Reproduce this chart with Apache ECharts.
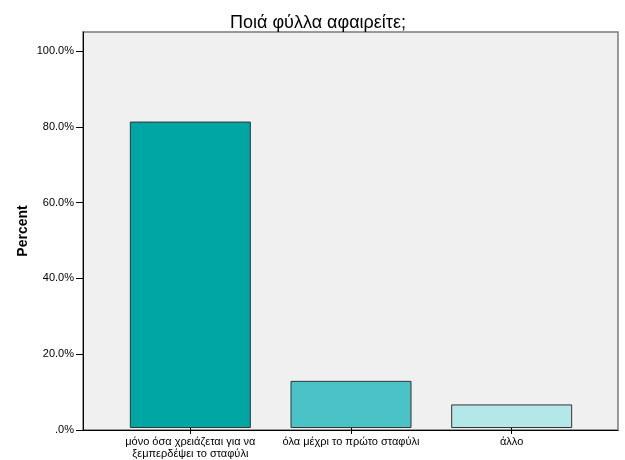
<!DOCTYPE html>
<html><head><meta charset="utf-8">
<script src="https://cdn.jsdelivr.net/npm/echarts@6/dist/echarts.min.js"></script>
<style>html,body{margin:0;padding:0;background:#fff}#c{width:625px;height:460px}</style>
</head><body><div id="c"></div>
<script>
const categories = ['μόνο όσα χρειάζεται για να\nξεμπερδέψει το σταφύλι', 'όλα μέχρι το πρώτο σταφύλι', 'άλλο'];
const percents = [81.25, 12.5, 6.25];
const barColors = ['#00a6a4', '#4bc3c6', '#b4e7e8'];
const yTicks = [0, 20, 40, 60, 80, 100];

const chart = echarts.init(document.getElementById('c'));
const font = 'Liberation Sans, Arial, sans-serif';
chart.setOption({
  animation: false,
  title: {
    text: 'Ποιά φύλλα αφαιρείτε;', left: 313, top: 9, textAlign: 'center',
    textStyle: { fontFamily: font, fontSize: 18, fontWeight: 'normal', color: '#000' }
  },
  grid: [
    { left: 83, right: 7, top: 32, bottom: 30, show: true, backgroundColor: '#f0f0f0', borderColor: '#7a7a7a', borderWidth: 1.5 },
    { left: 110, right: 33, top: 32, bottom: 30 }
  ],
  xAxis: [
    { gridIndex: 0, type: 'value', min: 0, max: 1, axisLine: { show: true, onZero: false, lineStyle: { color: '#000', width: 1 } },
      axisTick: { show: false }, axisLabel: { show: false }, splitLine: { show: false } },
    { gridIndex: 1, type: 'category', data: categories,
      axisLine: { show: false }, axisTick: { show: true, alignWithLabel: true, length: 6, lineStyle: { color: '#000' } },
      axisLabel: { fontFamily: font, fontSize: 11, color: '#000', margin: 8, lineHeight: 12, interval: 0 } }
  ],
  yAxis: [
    { gridIndex: 0, type: 'value', min: 0, max: 105,
      name: 'Percent', nameLocation: 'middle', nameGap: 53, nameRotate: 90, nameMoveOverlap: false,
      nameTextStyle: { fontFamily: font, fontSize: 14, fontWeight: 'bold', color: '#000' },
      axisLine: { show: true, lineStyle: { color: '#000' } },
      axisTick: { show: true, length: 7, customValues: yTicks, lineStyle: { color: '#000' } },
      axisLabel: { customValues: yTicks, fontFamily: font, fontSize: 11, color: '#000', margin: 9,
        formatter: v => (v === 0 ? '.0' : v.toFixed(1)) + '%' },
      splitLine: { show: false } },
    { gridIndex: 1, type: 'value', min: 0, max: 105, show: false, splitLine: { show: false } }
  ],
  series: [{
    type: 'bar', xAxisIndex: 1, yAxisIndex: 1, barWidth: 121,
    data: percents.map((v, i) => ({ value: v, itemStyle: { color: barColors[i] } })),
    itemStyle: { borderColor: '#333', borderWidth: 1 }
  }]
});
</script></body></html>
